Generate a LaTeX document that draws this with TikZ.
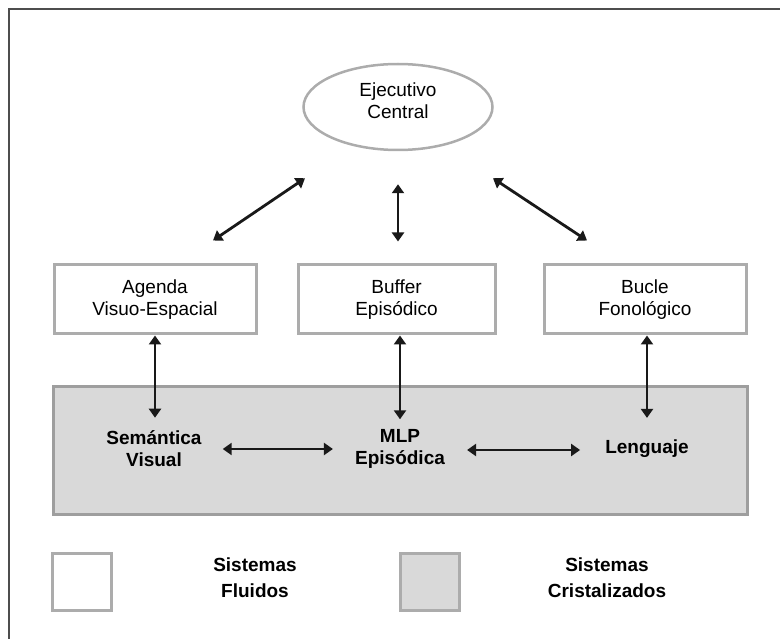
\documentclass[tikz,border=0pt]{standalone}
\usepackage{fontspec}
\setmainfont{Liberation Sans}
\usepackage{xcolor}
\usepackage{tikz}
\usetikzlibrary{positioning}
\usetikzlibrary{arrows.meta}
\usetikzlibrary{shapes.geometric}

\definecolor{panelgray}{HTML}{D9D9D9}
\definecolor{edgegray}{HTML}{ACACAC}
\definecolor{paneledge}{HTML}{9E9E9E}
\definecolor{framegray}{HTML}{4D4D4D}

\begin{document}
\begin{tikzpicture}[
  x=1pt, y=-1pt,
  font=\fontsize{19}{22}\selectfont,
  executive/.style={draw=edgegray, line width=2.5pt, ellipse, minimum width=189pt, minimum height=86pt},
  component/.style={draw=edgegray, line width=3pt, rectangle, minimum height=69pt, align=center},
  memory/.style={font=\bfseries\fontsize{19}{22}\selectfont, align=center, inner sep=0pt},
  legendbox/.style={draw=edgegray, line width=3pt, rectangle, minimum width=59pt, minimum height=57pt},
  legendtext/.style={font=\bfseries\fontsize{19}{26}\selectfont, align=center, inner sep=0pt},
  arr/.style={line width=2.8pt, black!90, {Triangle[length=9pt,width=12pt]}-{Triangle[length=9pt,width=12pt]}},
]
\useasboundingbox (0,0) rectangle (780,639);
\draw[framegray, line width=2pt] (9,639) -- (9,9) -- (780,9);

% crystallized systems panel
\node (panel) [draw=paneledge, fill=panelgray, line width=3pt, minimum width=694pt, minimum height=127pt] at (400,450.5) {};

% fluid systems
\node (ec) [executive, label={[align=center, yshift=6pt]center:Ejecutivo\\Central}] at (398,107) {};
\node (agenda) [component, minimum width=202pt] at (155,299.5) {Agenda\\Visuo-Espacial};
\node (buffer) [component, minimum width=197pt] at (396.5,299.5) {Buffer\\Episódico};
\node (bucle) [component, minimum width=202pt] at (645,299.5) {Bucle\\Fonológico};

\node (sem) [memory] at (154,449) {Semántica\\Visual};
\node (mlp) [memory] at (400,449) {MLP\\Episódica};
\node (len) [memory] at (647,449) {Lenguaje};

\draw[arr]
  ([xshift=58pt,yshift=23pt]agenda.north) -- ([xshift=-93pt,yshift=-27pt]ec.south);
\draw[arr]
  ([xshift=1.5pt,yshift=22pt]buffer.north) -- ([yshift=-33pt]ec.south);
\draw[arr]
  ([xshift=-58pt,yshift=23pt]bucle.north) -- ([xshift=95pt,yshift=-27pt]ec.south);

\draw[arr] (agenda.south) -- ([yshift=13pt]sem.north -| agenda.south);
\draw[arr] (mlp.north |- buffer.south) -- ([yshift=10pt]mlp.north);
\draw[arr] (len.north |- bucle.south) -- ([yshift=22pt]len.north);

\draw[arr, shorten <=21pt, shorten >=22pt] (sem.east) -- (sem.east -| mlp.west);
\draw[arr, shorten <=22pt, shorten >=25pt] ([yshift=-1pt]mlp.east) -- ([yshift=-1pt]mlp.east -| len.west);

% legend
\node (fluidbox) [legendbox] at (81.5,581.5) {};
\node (fluidtext) [legendtext] at (255,578) {Sistemas\\Fluidos};
\node (crystbox) [legendbox, fill=panelgray] at (429.5,581.5) {};
\node (crysttext) [legendtext] at (607,578) {Sistemas\\Cristalizados};
\end{tikzpicture}
\end{document}
